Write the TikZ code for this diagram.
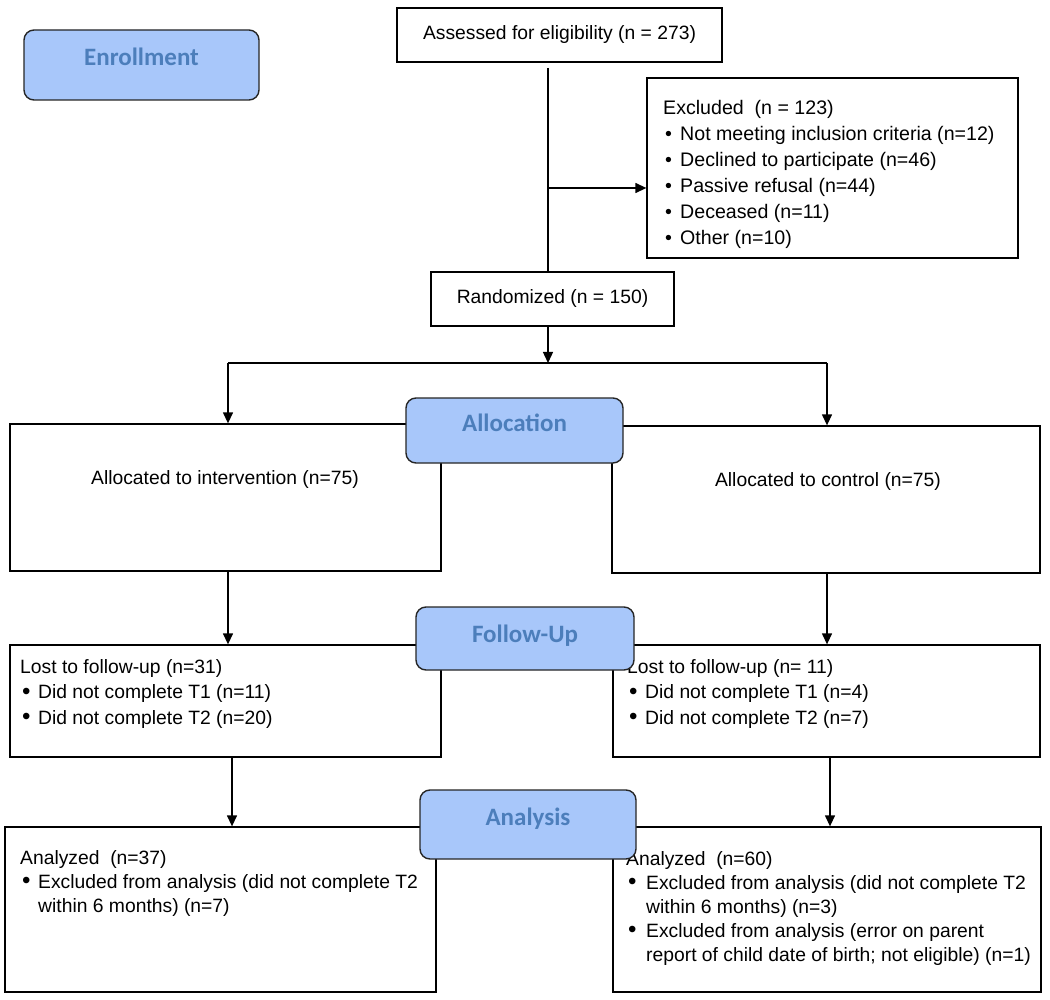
\documentclass[tikz,border=0pt]{standalone}
\usepackage{fontspec}
\setmainfont{Liberation Sans}
\newfontfamily\phasefont{Carlito}
\usepackage{graphicx}
\usetikzlibrary{arrows.meta}
\definecolor{phasefill}{RGB}{168,199,250}
\definecolor{phasetext}{RGB}{76,126,187}
\newcommand{\sbul}{\makebox[17pt][l]{\hspace{2pt}\textbullet}}
\newcommand{\bbul}[1][18pt]{\makebox[#1][l]{\hspace{2pt}\raisebox{-0.5pt}{\scalebox{1.25}{\textbullet}}}}
\begin{document}
\begin{tikzpicture}[x=1pt,y=-1pt,
  box/.style={draw=black,line width=1.3pt,inner sep=0pt,font=\fontsize{19.3}{24}\selectfont},
  phase/.style={draw=black!85,line width=1.4pt,fill=phasefill,rounded corners=10pt,inner sep=0pt,
    font=\phasefont\bfseries\fontsize{25}{30}\selectfont,text=phasetext,text height=16pt,text depth=14pt},
  listA/.style={anchor=north west,inner sep=0pt,align=left,font=\fontsize{19.6}{26}\selectfont},
  listB/.style={anchor=north west,inner sep=0pt,align=left,font=\fontsize{19.3}{25.5}\selectfont},
  listC/.style={anchor=north west,inner sep=0pt,align=left,font=\fontsize{19.3}{24}\selectfont},
  single/.style={anchor=base,inner sep=0pt,font=\fontsize{19.3}{24}\selectfont},
  conn/.style={draw=black,line width=1.3pt},
  arr/.style={conn,-{Triangle[length=11pt,width=10pt]}}]
\fill[white] (0,0) rectangle (1050,1000);
\useasboundingbox (0,0) rectangle (1050,1000);

% boxes
\node[box,minimum width=325pt,minimum height=54pt] (assessed) at (559.5,35) {Assessed for eligibility (n = 273)};
\node[box,minimum width=371pt,minimum height=180pt] (excl) at (832.5,168) {};
\node[box,minimum width=243pt,minimum height=54pt] (rand) at (552.5,299) {Randomized (n = 150)};
\node[box,minimum width=431pt,minimum height=147pt] (intv) at (225.5,497.5) {};
\node[box,minimum width=428pt,minimum height=147pt] (ctrl) at (826,499.5) {};
\node[box,minimum width=431pt,minimum height=112pt] (lostL) at (225.5,701) {};
\node[box,minimum width=427pt,minimum height=112pt] (lostR) at (826.5,701) {};
\node[box,minimum width=431pt,minimum height=165pt] (anL) at (220.5,909.5) {};
\node[box,minimum width=428pt,minimum height=165pt] (anR) at (827,909.5) {};

% texts
\node[listA] (exclt) at (663,96.3) {\strut Excluded\ \ (n = 123)\\
  \strut\sbul Not meeting inclusion criteria (n=12)\\
  \strut\sbul Declined to participate (n=46)\\
  \strut\sbul Passive refusal (n=44)\\
  \strut\sbul Deceased (n=11)\\
  \strut\sbul Other (n=10)};
\node[single] (intvt) at (225,484) {Allocated to intervention (n=75)};
\node[single] (ctrlt) at (828,486) {Allocated to control (n=75)};
\node[listB] (lostLt) at (20,655.2) {\strut Lost to follow-up (n=31)\\
  \strut\bbul Did not complete T1 (n=11)\\
  \strut\bbul Did not complete T2 (n=20)};
\node[listB] (lostRt) at (627,655.2) {\strut Lost to follow-up (n= 11)\\
  \strut\bbul Did not complete T1 (n=4)\\
  \strut\bbul Did not complete T2 (n=7)};
\node[listC] (anLt) at (20,847.2) {\strut Analyzed\ \ (n=37)\\
  \strut\bbul Excluded from analysis (did not complete T2\\
  \strut\hspace*{18pt}within 6 months) (n=7)};
\node[listC] (anRt) at (626,848.2) {\strut Analyzed\ \ (n=60)\\
  \strut\bbul[20pt]Excluded from analysis (did not complete T2\\
  \strut\hspace*{20pt}within 6 months) (n=3)\\
  \strut\bbul[20pt]Excluded from analysis (error on parent\\
  \strut\hspace*{20pt}report of child date of birth; not eligible) (n=1)};

% connectors
\coordinate (tstart) at (548,68);
\coordinate (exj) at (548,188);
\coordinate (split) at (548,363);
\coordinate (spL) at (228,363);
\coordinate (spR) at (827,363);
\coordinate (dL) at (232,0);
\coordinate (dR) at (830,0);
\draw[conn] (tstart) -- (rand.north -| tstart);
\draw[arr] (exj) -- (exj -| excl.west);
\draw[arr] (rand.south -| split) -- (split);
\draw[conn] (spL) -- (spR);
\draw[arr] (spL) -- (spL |- intv.north);
\draw[arr] (spR) -- (spR |- ctrl.north);
\draw[arr] (spL |- intv.south) -- (spL |- lostL.north);
\draw[arr] (spR |- ctrl.south) -- (spR |- lostR.north);
\draw[arr] (dL |- lostL.south) -- (dL |- anL.north);
\draw[arr] (dR |- lostR.south) -- (dR |- anR.north);

% phase labels
\node[phase,minimum width=235pt,minimum height=70pt] (enr) at (141.5,65) {Enrollment};
\node[phase,minimum width=217pt,minimum height=65pt] (alloc) at (514.5,430.5) {Allocation};
\node[phase,minimum width=218pt,minimum height=63pt,text depth=9pt] (fup) at (525,638.5) {Follow-Up};
\node[phase,minimum width=216pt,minimum height=69pt] (ana) at (528,824.5) {Analysis};
\end{tikzpicture}
\end{document}
